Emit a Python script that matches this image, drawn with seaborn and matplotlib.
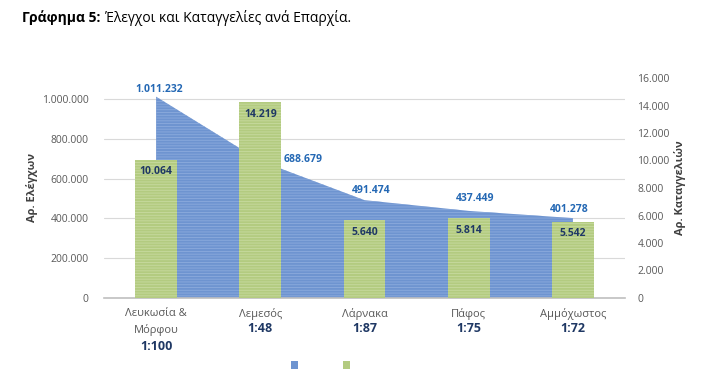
import matplotlib
matplotlib.use("Agg")
import matplotlib.pyplot as plt
import matplotlib.transforms as mtransforms
from matplotlib.patches import Patch
import seaborn as sns
import pandas as pd

categories = ["Λευκωσία &\nΜόρφου", "Λεμεσός", "Λάρνακα", "Πάφος", "Αμμόχωστος"]
ratios = ["1:100", "1:48", "1:87", "1:75", "1:72"]
checks = [1011232, 688679, 491474, 437449, 401278]
complaints = [10064, 14219, 5640, 5814, 5542]
left_ticks = [0, 200000, 400000, 600000, 800000, 1000000]
right_ticks = [0, 2000, 4000, 6000, 8000, 10000, 12000, 14000, 16000]

sns.set_theme(style="white")
plt.rcParams['font.family'] = ['Open Sans', 'DejaVu Sans']
plt.rcParams['hatch.linewidth'] = 0.6

def fmt(v):
    return f"{v:,}".replace(",", ".")

BLUE = "#6E94D0"
BLUE_H = "#8CABDD"
GREEN = "#B3CB80"
GREEN_H = "#C8DAA0"
GRAY = "#595959"
LBL_BLUE = "#2468B4"
NAVY = "#1F3864"

fig = plt.figure(figsize=(7.01, 3.85), dpi=100)
ax = fig.add_axes([104/701, 1-298/385, (625-104)/701, (298-78)/385])
ax2 = ax.twinx()

df = pd.DataFrame({"cat": categories, "checks": checks, "complaints": complaints})
xpos = list(range(len(categories)))

# area (left axis)
ax.fill_between(xpos, 0, df["checks"], facecolor=BLUE, edgecolor=BLUE_H,
                hatch="------", linewidth=0, zorder=2)
ax.set_xlim(-0.5, len(categories) - 0.5)
ax.set_ylim(0, 1105000)
ax.set_yticks(left_ticks)
ax.set_yticklabels([fmt(v) for v in left_ticks])
ax.yaxis.grid(True, color="#D9D9D9", linewidth=0.8, zorder=0)
ax.set_axisbelow(True)

# bars (right axis)
sns.barplot(data=df, x="cat", y="complaints", ax=ax2, color=GREEN, width=0.4,
            saturation=1, zorder=3)
for p in ax2.patches:
    p.set_hatch("------")
    p.set_edgecolor(GREEN_H)
    p.set_linewidth(0)
ax2.set_xlim(-0.5, len(categories) - 0.5)
ax2.set_ylim(0, 16000)
ax2.set_yticks(right_ticks)
ax2.set_yticklabels([fmt(v) for v in right_ticks])
ax2.set_xlabel("")

for a in (ax, ax2):
    for s in a.spines.values():
        s.set_visible(False)
    a.tick_params(axis="both", length=0, labelsize=7.5, labelcolor=GRAY)
ax.spines["bottom"].set_visible(True)
ax.spines["bottom"].set_color("#BFBFBF")
ax.spines["bottom"].set_linewidth(1.2)
ax.tick_params(axis="y", pad=11)
ax2.tick_params(axis="y", pad=9)

ax.set_xticks(xpos)
ax.set_xticklabels(categories, fontsize=8, color=GRAY, linespacing=1.6)
ax.tick_params(axis="x", pad=7)
ax2.tick_params(axis="x", labelbottom=False)

ax.set_ylabel("Αρ. Ελέγχων", fontsize=8, fontweight="bold", color="#404040", labelpad=3)
ax2.set_ylabel("Αρ. Καταγγελιών", fontsize=8, fontweight="bold", color="#404040",
               rotation=90, labelpad=3)

# area labels
offs = [(3, 7), (43, 1), (7, 10), (6, 12), (-4, 9)]
for i, v in enumerate(checks):
    ax.annotate(fmt(v), (xpos[i], v), xytext=(offs[i][0]*0.72, offs[i][1]*0.72),
                textcoords="offset points", ha="center", va="center",
                fontsize=7.5, fontweight="bold", color=LBL_BLUE, zorder=5)

# bar labels
for i, v in enumerate(complaints):
    ax2.annotate(fmt(v), (xpos[i], v), xytext=(0, -12*0.72),
                 textcoords="offset points", ha="center", va="center",
                 fontsize=7.5, fontweight="bold", color=NAVY, zorder=6)

# ratios under category labels
trans = mtransforms.blended_transform_factory(ax.transData, fig.transFigure)
for i, r in enumerate(ratios):
    ypix = 346 if "\n" in categories[i] else 329
    fig.text(xpos[i], 1 - ypix/385, r, transform=trans, ha="center", va="center",
             fontsize=9, fontweight="bold", color=NAVY)

# legend (markers only)
handles = [Patch(facecolor=BLUE, edgecolor="none"), Patch(facecolor=GREEN, edgecolor="none")]
fig.legend(handles, ["", ""], ncol=2, loc="center", bbox_to_anchor=(322/701, 1-367/385),
           frameon=False, handlelength=0.45, handleheight=0.45, columnspacing=2.75,
           handletextpad=0.2)

# title
fig.text(22/701, 1-18/385, "Γράφημα 5:", fontsize=10, fontweight="bold",
         color="black", ha="left", va="center")
fig.text(105/701, 1-18/385, "Έλεγχοι και Καταγγελίες ανά Επαρχία.", fontsize=10,
         color="black", ha="left", va="center")

fig.savefig("out.png", dpi=100)
